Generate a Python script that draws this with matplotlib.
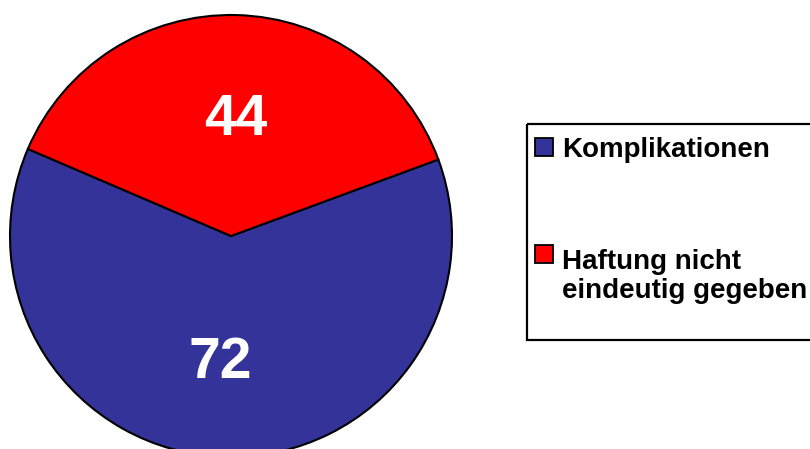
import matplotlib
matplotlib.use("Agg")
import matplotlib.pyplot as plt
from matplotlib.patches import Rectangle

categories = ["Komplikationen", "Haftung nicht\neindeutig gegeben"]
values = [72, 44]
colors = ["#333399", "#FF0000"]

W, H = 810, 449
fig = plt.figure(figsize=(W / 100, H / 100), dpi=100)
fig.patch.set_facecolor("white")

cx, cy, r = 231, 236, 221
ax = fig.add_axes([(cx - r) / W, (H - cy - r) / H, 2 * r / W, 2 * r / H])
wedges, texts = ax.pie(values, colors=colors, startangle=156.8, counterclock=True,
                       labels=[str(v) for v in values], labeldistance=0.55,
                       wedgeprops=dict(edgecolor="black", linewidth=1.5),
                       textprops=dict(color="white", fontsize=41, fontweight="bold",
                                      family="Liberation Sans", ha="center", va="center"))
texts[0].set_position((-0.05, -0.573))
texts[1].set_position((0.022, 0.527))
for w in wedges:
    w.set_clip_on(False)
ax.set_xlim(-1, 1)
ax.set_ylim(-1, 1)
ax.set_aspect("equal")
ax.axis("off")

# legend (drawn in pixel coordinates)
lax = fig.add_axes([0, 0, 1, 1])
lax.set_xlim(0, W)
lax.set_ylim(H, 0)
lax.axis("off")
lax.add_patch(Rectangle((527, 124), 300, 216, facecolor="none", edgecolor="black",
                        linewidth=1.6, clip_on=False))
marker_y = [138, 245]
text_base = [157, 298]
for lab, col, my, tb in zip(categories, colors, marker_y, text_base):
    lax.add_patch(Rectangle((535, my), 18, 18, facecolor=col, edgecolor="black",
                            linewidth=1.3))
    lax.text(562, tb, lab, fontsize=20, fontweight="bold", family="Liberation Sans",
             ha="left", va="baseline", color="black", linespacing=1.15)

fig.savefig("out.png", dpi=100, facecolor="white")
